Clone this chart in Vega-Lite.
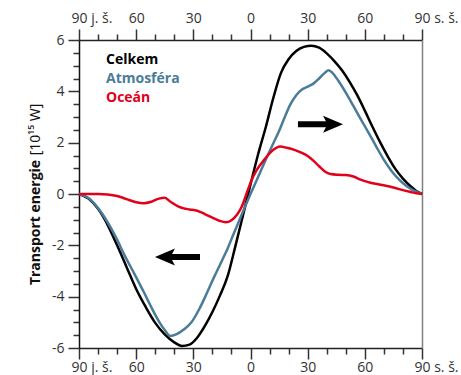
{
  "$schema": "https://vega.github.io/schema/vega-lite/v6.json",
  "width": 343,
  "height": 308,
  "autosize": "none",
  "padding": {"left": 79, "top": 40, "right": 39, "bottom": 27},
  "background": "white",
  "config": {"view": {"stroke": null}, "font": "Open Sans"},
  "datasets": {
    "curves": [
      {"series": "Celkem", "lat": -90, "value": 0},
      {"series": "Celkem", "lat": -85, "value": -0.18},
      {"series": "Celkem", "lat": -80, "value": -0.58},
      {"series": "Celkem", "lat": -75, "value": -1.2},
      {"series": "Celkem", "lat": -70, "value": -2.0},
      {"series": "Celkem", "lat": -65, "value": -2.85},
      {"series": "Celkem", "lat": -60, "value": -3.7},
      {"series": "Celkem", "lat": -55, "value": -4.4},
      {"series": "Celkem", "lat": -50, "value": -5.02},
      {"series": "Celkem", "lat": -45, "value": -5.47},
      {"series": "Celkem", "lat": -40, "value": -5.78},
      {"series": "Celkem", "lat": -36, "value": -5.92},
      {"series": "Celkem", "lat": -32, "value": -5.87},
      {"series": "Celkem", "lat": -28, "value": -5.6},
      {"series": "Celkem", "lat": -24, "value": -5.15},
      {"series": "Celkem", "lat": -20, "value": -4.6},
      {"series": "Celkem", "lat": -16, "value": -3.95},
      {"series": "Celkem", "lat": -12, "value": -3.2},
      {"series": "Celkem", "lat": -8, "value": -2.05},
      {"series": "Celkem", "lat": -4, "value": -0.85},
      {"series": "Celkem", "lat": 0, "value": 0.37},
      {"series": "Celkem", "lat": 4, "value": 1.55},
      {"series": "Celkem", "lat": 8, "value": 2.6},
      {"series": "Celkem", "lat": 12, "value": 3.75},
      {"series": "Celkem", "lat": 16, "value": 4.72},
      {"series": "Celkem", "lat": 20, "value": 5.25},
      {"series": "Celkem", "lat": 24, "value": 5.57},
      {"series": "Celkem", "lat": 28, "value": 5.73},
      {"series": "Celkem", "lat": 32, "value": 5.78},
      {"series": "Celkem", "lat": 36, "value": 5.7},
      {"series": "Celkem", "lat": 40, "value": 5.48},
      {"series": "Celkem", "lat": 44, "value": 5.18},
      {"series": "Celkem", "lat": 48, "value": 4.82},
      {"series": "Celkem", "lat": 52, "value": 4.37},
      {"series": "Celkem", "lat": 56, "value": 3.85},
      {"series": "Celkem", "lat": 60, "value": 3.25},
      {"series": "Celkem", "lat": 64, "value": 2.62},
      {"series": "Celkem", "lat": 68, "value": 2.02},
      {"series": "Celkem", "lat": 72, "value": 1.47},
      {"series": "Celkem", "lat": 76, "value": 0.98},
      {"series": "Celkem", "lat": 80, "value": 0.6},
      {"series": "Celkem", "lat": 84, "value": 0.3},
      {"series": "Celkem", "lat": 87, "value": 0.12},
      {"series": "Celkem", "lat": 90, "value": 0},
      {"series": "Atmosféra", "lat": -90, "value": 0},
      {"series": "Atmosféra", "lat": -85, "value": -0.16},
      {"series": "Atmosféra", "lat": -80, "value": -0.55},
      {"series": "Atmosféra", "lat": -75, "value": -1.1},
      {"series": "Atmosféra", "lat": -70, "value": -1.78},
      {"series": "Atmosféra", "lat": -66, "value": -2.4},
      {"series": "Atmosféra", "lat": -61, "value": -3.1},
      {"series": "Atmosféra", "lat": -56, "value": -3.82},
      {"series": "Atmosféra", "lat": -52, "value": -4.42},
      {"series": "Atmosféra", "lat": -48, "value": -4.97},
      {"series": "Atmosféra", "lat": -45, "value": -5.3},
      {"series": "Atmosféra", "lat": -42, "value": -5.53},
      {"series": "Atmosféra", "lat": -39, "value": -5.47},
      {"series": "Atmosféra", "lat": -35, "value": -5.28},
      {"series": "Atmosféra", "lat": -31, "value": -5.0},
      {"series": "Atmosféra", "lat": -27, "value": -4.5},
      {"series": "Atmosféra", "lat": -23, "value": -3.88},
      {"series": "Atmosféra", "lat": -19, "value": -3.22},
      {"series": "Atmosféra", "lat": -15, "value": -2.6},
      {"series": "Atmosféra", "lat": -12, "value": -2.12},
      {"series": "Atmosféra", "lat": -9, "value": -1.58},
      {"series": "Atmosféra", "lat": -6, "value": -1.05},
      {"series": "Atmosféra", "lat": -3, "value": -0.52},
      {"series": "Atmosféra", "lat": 0, "value": 0},
      {"series": "Atmosféra", "lat": 3, "value": 0.5},
      {"series": "Atmosféra", "lat": 6, "value": 1.0},
      {"series": "Atmosféra", "lat": 9, "value": 1.5},
      {"series": "Atmosféra", "lat": 12, "value": 1.98},
      {"series": "Atmosféra", "lat": 15, "value": 2.45},
      {"series": "Atmosféra", "lat": 18, "value": 3.0},
      {"series": "Atmosféra", "lat": 21, "value": 3.5},
      {"series": "Atmosféra", "lat": 24, "value": 3.85},
      {"series": "Atmosféra", "lat": 27, "value": 4.07},
      {"series": "Atmosféra", "lat": 30, "value": 4.18},
      {"series": "Atmosféra", "lat": 33, "value": 4.3},
      {"series": "Atmosféra", "lat": 36, "value": 4.5},
      {"series": "Atmosféra", "lat": 39, "value": 4.72},
      {"series": "Atmosféra", "lat": 41, "value": 4.82},
      {"series": "Atmosféra", "lat": 43, "value": 4.72},
      {"series": "Atmosféra", "lat": 46, "value": 4.42},
      {"series": "Atmosféra", "lat": 50, "value": 3.95},
      {"series": "Atmosféra", "lat": 54, "value": 3.43},
      {"series": "Atmosféra", "lat": 58, "value": 2.9},
      {"series": "Atmosféra", "lat": 62, "value": 2.38},
      {"series": "Atmosféra", "lat": 66, "value": 1.85},
      {"series": "Atmosféra", "lat": 70, "value": 1.33},
      {"series": "Atmosféra", "lat": 74, "value": 0.9},
      {"series": "Atmosféra", "lat": 78, "value": 0.56},
      {"series": "Atmosféra", "lat": 82, "value": 0.3},
      {"series": "Atmosféra", "lat": 86, "value": 0.12},
      {"series": "Atmosféra", "lat": 90, "value": 0},
      {"series": "Oceán", "lat": -90, "value": 0},
      {"series": "Oceán", "lat": -80, "value": 0},
      {"series": "Oceán", "lat": -75, "value": -0.02},
      {"series": "Oceán", "lat": -70, "value": -0.08},
      {"series": "Oceán", "lat": -65, "value": -0.2},
      {"series": "Oceán", "lat": -60, "value": -0.32},
      {"series": "Oceán", "lat": -56, "value": -0.36},
      {"series": "Oceán", "lat": -52, "value": -0.3},
      {"series": "Oceán", "lat": -48, "value": -0.18},
      {"series": "Oceán", "lat": -45, "value": -0.15},
      {"series": "Oceán", "lat": -42, "value": -0.3},
      {"series": "Oceán", "lat": -38, "value": -0.48},
      {"series": "Oceán", "lat": -35, "value": -0.56},
      {"series": "Oceán", "lat": -32, "value": -0.6},
      {"series": "Oceán", "lat": -28, "value": -0.65},
      {"series": "Oceán", "lat": -24, "value": -0.78},
      {"series": "Oceán", "lat": -20, "value": -0.92},
      {"series": "Oceán", "lat": -16, "value": -1.05},
      {"series": "Oceán", "lat": -13, "value": -1.1},
      {"series": "Oceán", "lat": -10, "value": -1.02},
      {"series": "Oceán", "lat": -7, "value": -0.8},
      {"series": "Oceán", "lat": -4.5, "value": -0.48},
      {"series": "Oceán", "lat": -2, "value": 0.03},
      {"series": "Oceán", "lat": 0.6, "value": 0.55},
      {"series": "Oceán", "lat": 3, "value": 0.9},
      {"series": "Oceán", "lat": 6, "value": 1.22},
      {"series": "Oceán", "lat": 9, "value": 1.5},
      {"series": "Oceán", "lat": 12, "value": 1.72},
      {"series": "Oceán", "lat": 15.5, "value": 1.85},
      {"series": "Oceán", "lat": 19, "value": 1.8},
      {"series": "Oceán", "lat": 23, "value": 1.72},
      {"series": "Oceán", "lat": 27, "value": 1.6},
      {"series": "Oceán", "lat": 30, "value": 1.48},
      {"series": "Oceán", "lat": 33, "value": 1.3},
      {"series": "Oceán", "lat": 36, "value": 1.08},
      {"series": "Oceán", "lat": 39, "value": 0.88},
      {"series": "Oceán", "lat": 42, "value": 0.78},
      {"series": "Oceán", "lat": 46, "value": 0.75},
      {"series": "Oceán", "lat": 50, "value": 0.74},
      {"series": "Oceán", "lat": 54, "value": 0.68},
      {"series": "Oceán", "lat": 57, "value": 0.58},
      {"series": "Oceán", "lat": 60, "value": 0.5},
      {"series": "Oceán", "lat": 63, "value": 0.44},
      {"series": "Oceán", "lat": 67, "value": 0.38},
      {"series": "Oceán", "lat": 71, "value": 0.32},
      {"series": "Oceán", "lat": 75, "value": 0.25},
      {"series": "Oceán", "lat": 80, "value": 0.15},
      {"series": "Oceán", "lat": 84, "value": 0.08},
      {"series": "Oceán", "lat": 87, "value": 0.03},
      {"series": "Oceán", "lat": 90, "value": 0}
    ],
    "arrows": [
      {"direction": "left", "from": -43, "to": -26.5, "head": -44.9, "level": -2.45},
      {"direction": "right", "from": 24.9, "to": 41.7, "head": 43.3, "level": 2.72}
    ]
  },
  "layer": [
    {
      "mark": {"type": "rule", "color": "#808080", "strokeWidth": 2},
      "encoding": {
        "y": {"datum": 0, "type": "quantitative", "scale": {"domain": [-6, 6], "nice": false, "zero": false}, "axis": null}
      }
    },
    {
      "data": {"name": "curves"},
      "mark": {"type": "line", "strokeWidth": 2.5, "interpolate": "monotone"},
      "encoding": {
        "x": {
          "field": "lat", "type": "quantitative",
          "scale": {"domain": [-90, 90], "nice": false, "zero": false},
          "axis": {
            "orient": "bottom",
            "values": [-90, -80, -70, -60, -50, -40, -30, -20, -10, 0, 10, 20, 30, 40, 50, 60, 70, 80, 90],
            "title": null, "grid": false,
            "labelExpr": "datum.value == -90 ? '90 j. š.' : (datum.value == 90 ? '90 s. š.' : (datum.value % 30 == 0 ? '' + abs(datum.value) : ''))",
            "labelAlign": {"condition": {"test": "abs(datum.value) == 90", "value": "left"}, "value": "center"},
            "labelOffset": {"condition": {"test": "abs(datum.value) == 90", "value": -8}, "value": 0},
            "tickSize": {"condition": {"test": "datum.value % 30 == 0", "value": 11}, "value": 6},
            "tickWidth": 1.5, "tickColor": "#333333",
            "domainColor": "#222222", "domainWidth": 1.5,
            "labelColor": "#333333", "labelFontSize": 14, "labelFont": "Open Sans",
            "labelPadding": 1, "labelOverlap": false, "labelFlush": false
          }
        },
        "y": {
          "field": "value", "type": "quantitative",
          "axis": {
            "orient": "left",
            "values": [-6, -5.5, -5, -4.5, -4, -3.5, -3, -2.5, -2, -1.5, -1, -0.5, 0, 0.5, 1, 1.5, 2, 2.5, 3, 3.5, 4, 4.5, 5, 5.5, 6],
            "grid": false,
            "labelExpr": "datum.value % 2 == 0 ? (datum.value < 0 ? '-' + abs(datum.value) : '' + datum.value) : ''",
            "tickSize": {"condition": {"test": "datum.value % 2 == 0", "value": 11}, "value": 6},
            "tickWidth": 1.5, "tickColor": "#333333",
            "domainColor": "#111111", "domainWidth": 1.5,
            "labelColor": "#333333", "labelFontSize": 14, "labelFont": "Open Sans",
            "labelPadding": 4, "labelOverlap": false, "labelFlush": false,
            "title": "Transport energie",
            "titleFont": "Open Sans", "titleFontWeight": "bold", "titleFontSize": 14, "titleColor": "#111111",
            "titleX": -37, "titleY": 182
          }
        },
        "color": {
          "field": "series", "type": "nominal",
          "scale": {"domain": ["Celkem", "Atmosféra", "Oceán"], "range": ["#000000", "#4a7c99", "#e2001a"]},
          "legend": {
            "orient": "top-left", "title": null,
            "symbolSize": 0, "symbolStrokeWidth": 0, "symbolOpacity": 0,
            "labelOffset": 0, "labelFontSize": 14, "labelFontWeight": "bold", "labelFont": "Open Sans",
            "rowPadding": 5, "offset": 13, "padding": 0,
            "encode": {"labels": {"update": {"fill": {"scale": "color", "field": "value"}}}}
          }
        }
      }
    },
    {
      "data": {"name": "arrows"},
      "mark": {"type": "rule", "color": "#000000", "strokeWidth": 6},
      "encoding": {
        "x": {
          "field": "from", "type": "quantitative",
          "axis": {
            "orient": "top",
            "values": [-90, -80, -70, -60, -50, -40, -30, -20, -10, 0, 10, 20, 30, 40, 50, 60, 70, 80, 90],
            "title": null, "grid": false,
            "labelExpr": "datum.value == -90 ? '90 j. š.' : (datum.value == 90 ? '90 s. š.' : (datum.value % 30 == 0 ? '' + abs(datum.value) : ''))",
            "labelAlign": {"condition": {"test": "abs(datum.value) == 90", "value": "left"}, "value": "center"},
            "labelOffset": {"condition": {"test": "abs(datum.value) == 90", "value": -8}, "value": 0},
            "tickSize": {"condition": {"test": "datum.value % 30 == 0", "value": 11}, "value": 6},
            "tickWidth": 1.5, "tickColor": "#333333",
            "domainColor": "#222222", "domainWidth": 1.5,
            "labelColor": "#333333", "labelFontSize": 14, "labelFont": "Open Sans",
            "labelPadding": 4, "labelOverlap": false, "labelFlush": false
          }
        },
        "x2": {"field": "to"},
        "y": {
          "field": "level", "type": "quantitative",
          "axis": {"orient": "right", "domainColor": "#808080", "domainWidth": 1.5, "ticks": false, "labels": false, "title": null, "grid": false}
        }
      }
    },
    {
      "data": {"name": "arrows"},
      "mark": {"type": "point", "filled": true, "opacity": 1, "color": "#000000", "size": 400},
      "encoding": {
        "x": {"field": "head", "type": "quantitative", "axis": null},
        "y": {
          "field": "level", "type": "quantitative",
          "axis": {
            "orient": "left", "domain": false, "ticks": false, "labels": false, "grid": false,
            "title": "[10¹⁵ W]", "titleFont": "Noto Sans", "titleFontWeight": "normal", "titleFontSize": 14, "titleColor": "#111111",
            "titleX": -37, "titleY": 89
          }
        },
        "shape": {
          "field": "direction", "type": "nominal",
          "scale": {"domain": ["left", "right"], "range": ["M -1 0 L 1 -0.85 L 0.55 0 L 1 0.85 Z", "M 1 0 L -1 -0.85 L -0.55 0 L -1 0.85 Z"]},
          "legend": null
        }
      }
    }
  ],
  "resolve": {"axis": {"x": "independent", "y": "independent"}}
}
